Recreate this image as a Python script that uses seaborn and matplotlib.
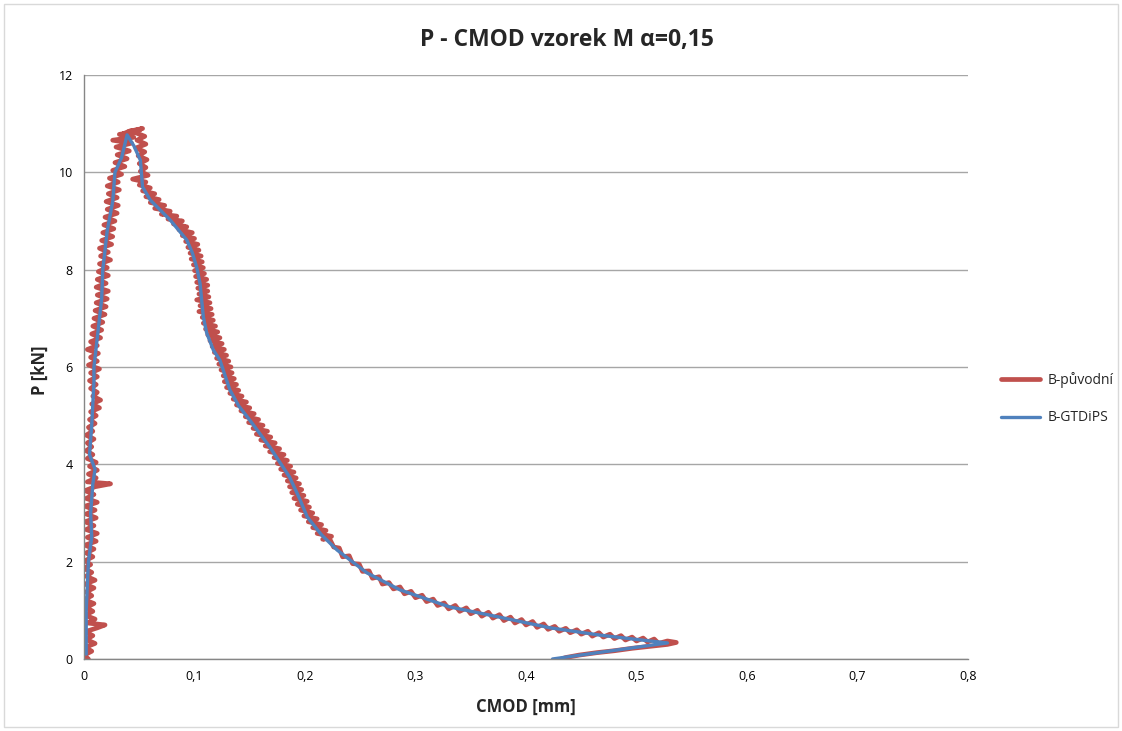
#!/usr/bin/env python3
"""P - CMOD vzorek M, alpha=0,15 — puvodni vs GTDiPS."""

import matplotlib
matplotlib.use("Agg")
import matplotlib.pyplot as plt
import matplotlib.ticker as mticker
import pandas as pd
import seaborn as sns

red_up_y = [
    0.00, 0.08, 0.16, 0.24, 0.32, 0.40, 0.48, 0.56, 0.64, 0.70,
    0.74, 0.82, 0.90, 0.98, 1.06, 1.14, 1.22, 1.30, 1.38, 1.46,
    1.54, 1.62, 1.70, 1.78, 1.86, 1.94, 2.02, 2.10, 2.18, 2.26,
    2.34, 2.42, 2.50, 2.58, 2.66, 2.74, 2.82, 2.90, 2.98, 3.06,
    3.14, 3.22, 3.30, 3.38, 3.46, 3.54, 3.60, 3.64, 3.72, 3.80,
    3.88, 3.96, 4.04, 4.12, 4.20, 4.28, 4.36, 4.44, 4.52, 4.60,
    4.68, 4.76, 4.84, 4.92, 5.00, 5.08, 5.16, 5.24, 5.32, 5.40,
    5.48, 5.56, 5.64, 5.72, 5.80, 5.88, 5.96, 6.04, 6.12, 6.20,
    6.28, 6.36, 6.44, 6.52, 6.60, 6.68, 6.76, 6.84, 6.92, 7.00,
    7.08, 7.16, 7.24, 7.32, 7.40, 7.48, 7.56, 7.64, 7.72, 7.80,
    7.88, 7.96, 8.04, 8.12, 8.20, 8.28, 8.36, 8.44, 8.52, 8.60,
    8.68, 8.76, 8.84, 8.92, 9.00, 9.08, 9.16, 9.24, 9.32, 9.40,
    9.48, 9.56, 9.64, 9.72, 9.80, 9.88, 9.96, 10.04, 10.12, 10.20,
    10.28, 10.36, 10.44, 10.52, 10.60, 10.66, 10.72, 10.78, 10.84, 10.80,
    10.88, 10.84, 10.90,
]
red_up_x = [
    0.004, 0.000, 0.007, 0.001, 0.010, 0.002, 0.008, 0.001, 0.012, 0.019,
    0.003, 0.010, 0.001, 0.008, 0.002, 0.009, 0.000, 0.007, 0.002, 0.009,
    0.001, 0.010, 0.002, 0.007, 0.000, 0.006, 0.001, 0.008, 0.002, 0.009,
    0.001, 0.011, 0.003, 0.012, 0.002, 0.009, 0.001, 0.011, 0.002, 0.010,
    0.001, 0.012, 0.002, 0.009, 0.001, 0.010, 0.024, 0.003, 0.011, 0.004,
    0.012, 0.005, 0.011, 0.003, 0.008, 0.002, 0.007, 0.003, 0.009, 0.002,
    0.008, 0.004, 0.010, 0.005, 0.011, 0.006, 0.014, 0.007, 0.015, 0.008,
    0.012, 0.006, 0.011, 0.005, 0.012, 0.006, 0.014, 0.004, 0.012, 0.006,
    0.013, 0.003, 0.012, 0.006, 0.015, 0.007, 0.016, 0.008, 0.017, 0.009,
    0.019, 0.010, 0.020, 0.011, 0.021, 0.012, 0.022, 0.011, 0.020, 0.012,
    0.022, 0.013, 0.021, 0.014, 0.024, 0.015, 0.022, 0.014, 0.025, 0.016,
    0.026, 0.017, 0.027, 0.018, 0.028, 0.019, 0.030, 0.021, 0.031, 0.020,
    0.030, 0.022, 0.032, 0.021, 0.031, 0.023, 0.034, 0.026, 0.037, 0.028,
    0.039, 0.030, 0.041, 0.029, 0.043, 0.026, 0.045, 0.032, 0.048, 0.036,
    0.051, 0.040, 0.053,
]

# falling branch
red_dn_x = [
    0.052, 0.046, 0.055, 0.048, 0.056, 0.047, 0.055, 0.049, 0.057, 0.050,
    0.056, 0.051, 0.058, 0.044, 0.056, 0.050, 0.060, 0.053, 0.064, 0.056,
    0.068, 0.060, 0.073, 0.064, 0.078, 0.070, 0.084, 0.076, 0.089, 0.081,
    0.093, 0.086, 0.098, 0.089, 0.100, 0.092, 0.103, 0.094, 0.104, 0.096,
    0.106, 0.097, 0.107, 0.099, 0.108, 0.100, 0.109, 0.101, 0.111, 0.102,
    0.112, 0.103, 0.112, 0.104, 0.113, 0.102, 0.114, 0.105, 0.115, 0.104,
    0.116, 0.107, 0.117, 0.108, 0.119, 0.110, 0.121, 0.112, 0.123, 0.114,
    0.125, 0.116, 0.127, 0.118, 0.129, 0.120, 0.131, 0.122, 0.133, 0.124,
    0.134, 0.126, 0.136, 0.127, 0.138, 0.129, 0.140, 0.132, 0.143, 0.135,
    0.147, 0.138, 0.150, 0.142, 0.154, 0.146, 0.158, 0.149, 0.162, 0.153,
    0.166, 0.156, 0.169, 0.160, 0.173, 0.164, 0.177, 0.168, 0.181, 0.172,
    0.184, 0.175, 0.187, 0.178, 0.190, 0.181, 0.192, 0.184, 0.195, 0.186,
    0.197, 0.188, 0.199, 0.190, 0.202, 0.193, 0.204, 0.196, 0.207, 0.199,
    0.211, 0.203, 0.215, 0.207, 0.219, 0.211, 0.224, 0.216,
    0.222, 0.226, 0.231, 0.234, 0.240, 0.243, 0.249, 0.252, 0.258, 0.261,
    0.267, 0.270, 0.276, 0.280, 0.286, 0.290, 0.296, 0.300, 0.306, 0.310,
    0.316, 0.320, 0.326, 0.330, 0.336, 0.340, 0.346, 0.350, 0.356, 0.360,
    0.366, 0.370, 0.376, 0.380, 0.386, 0.390, 0.396, 0.400, 0.406, 0.410,
    0.416, 0.420, 0.426, 0.430, 0.436, 0.440, 0.446, 0.450, 0.456, 0.460,
    0.466, 0.470, 0.476, 0.480, 0.486, 0.490, 0.496, 0.500, 0.506, 0.510,
    0.516, 0.520, 0.528, 0.536, 0.528, 0.512, 0.496, 0.480, 0.464, 0.448,
    0.436, 0.432,
]
red_dn_y = [
    10.90, 10.82, 10.74, 10.66, 10.58, 10.50, 10.42, 10.34, 10.26, 10.18,
    10.10, 10.02, 9.94, 9.86, 9.80, 9.74, 9.68, 9.62, 9.56, 9.50,
    9.44, 9.38, 9.32, 9.26, 9.20, 9.14, 9.10, 9.04, 9.00, 8.94,
    8.88, 8.82, 8.76, 8.70, 8.64, 8.58, 8.52, 8.46, 8.40, 8.34,
    8.28, 8.22, 8.16, 8.10, 8.04, 7.98, 7.92, 7.86, 7.80, 7.74,
    7.68, 7.62, 7.56, 7.50, 7.44, 7.38, 7.32, 7.26, 7.20, 7.14,
    7.08, 7.02, 6.96, 6.90, 6.84, 6.78, 6.72, 6.66, 6.60, 6.54,
    6.48, 6.42, 6.36, 6.30, 6.24, 6.18, 6.12, 6.06, 6.00, 5.94,
    5.88, 5.82, 5.76, 5.70, 5.64, 5.58, 5.52, 5.46, 5.40, 5.34,
    5.28, 5.22, 5.16, 5.10, 5.04, 4.98, 4.92, 4.86, 4.80, 4.74,
    4.68, 4.62, 4.56, 4.50, 4.44, 4.38, 4.32, 4.26, 4.20, 4.14,
    4.08, 4.02, 3.96, 3.90, 3.84, 3.78, 3.72, 3.66, 3.60, 3.54,
    3.48, 3.42, 3.36, 3.30, 3.24, 3.18, 3.12, 3.06, 3.00, 2.94,
    2.88, 2.82, 2.76, 2.70, 2.64, 2.58, 2.52, 2.46,
    2.48, 2.30, 2.28, 2.10, 2.12, 1.96, 1.95, 1.80, 1.81, 1.66,
    1.69, 1.54, 1.57, 1.44, 1.48, 1.34, 1.39, 1.26, 1.31, 1.18,
    1.23, 1.10, 1.15, 1.03, 1.10, 0.98, 1.05, 0.93, 1.00, 0.88,
    0.96, 0.84, 0.91, 0.79, 0.86, 0.74, 0.81, 0.70, 0.77, 0.65,
    0.72, 0.61, 0.67, 0.57, 0.63, 0.54, 0.60, 0.51, 0.57, 0.47,
    0.54, 0.45, 0.51, 0.42, 0.48, 0.39, 0.45, 0.37, 0.43, 0.35,
    0.41, 0.32, 0.37, 0.34, 0.30, 0.26, 0.22, 0.17, 0.13, 0.08,
    0.03, 0.00,
]

# B-GTDiPS (smoothed record)
blue_x = [
    0.002, 0.002, 0.004, 0.007, 0.006, 0.008, 0.010, 0.005, 0.007, 0.009,
    0.009, 0.016, 0.017, 0.021, 0.026, 0.028, 0.034, 0.039,
    0.045, 0.051, 0.053, 0.060, 0.078, 0.093, 0.098, 0.102, 0.105, 0.108,
    0.111, 0.117, 0.123, 0.132, 0.140, 0.150, 0.168, 0.186, 0.195, 0.202,
    0.215, 0.229, 0.256, 0.286, 0.331, 0.376, 0.422, 0.467, 0.497, 0.528,
    0.424,
]
blue_y = [
    0.10, 1.00, 2.00, 2.50, 3.00, 3.60, 3.90, 4.20, 4.80, 5.70,
    6.00, 7.40, 8.00, 8.80, 9.40, 10.00, 10.30, 10.77,
    10.55, 10.25, 9.70, 9.43, 9.02, 8.61, 8.35, 8.05, 7.72, 7.03,
    6.70, 6.35, 6.14, 5.53, 5.20, 4.91, 4.36, 3.74, 3.30, 2.92,
    2.55, 2.24, 1.77, 1.42, 1.07, 0.86, 0.64, 0.49, 0.41, 0.33,
    0.00,
]

x_ticks = [0, 0.1, 0.2, 0.3, 0.4, 0.5, 0.6, 0.7, 0.8]
y_ticks = [0, 2, 4, 6, 8, 10, 12]


def comma(v, _pos):
    s = f"{v:.1f}".rstrip("0").rstrip(".")
    return s.replace(".", ",")


def main() -> int:
    sns.set_theme(style="white")
    plt.rcParams["font.family"] = ["Open Sans", "DejaVu Sans"]

    df_red = pd.DataFrame({"x": red_up_x + red_dn_x, "y": red_up_y + red_dn_y})
    df_blue = pd.DataFrame({"x": blue_x, "y": blue_y})

    fig = plt.figure(figsize=(11.22, 7.31), dpi=100)
    ax = fig.add_axes([84 / 1122, 1 - 659 / 731, (968 - 84) / 1122, (659 - 75) / 731])

    sns.lineplot(data=df_red, x="x", y="y", sort=False, estimator=None,
                 color="#C0504D", linewidth=3.4, solid_joinstyle="round",
                 ax=ax, label="B-původní")
    sns.lineplot(data=df_blue, x="x", y="y", sort=False, estimator=None,
                 color="#4F81BD", linewidth=2.4, solid_joinstyle="round",
                 ax=ax, label="B-GTDiPS")

    ax.set_xlim(0, 0.8)
    ax.set_ylim(0, 12)
    ax.set_xticks(x_ticks)
    ax.set_yticks(y_ticks)
    ax.xaxis.set_major_formatter(mticker.FuncFormatter(comma))
    ax.yaxis.grid(True, color="#A6A6A6", linewidth=1.0)
    ax.set_axisbelow(True)
    for side in ("top", "right"):
        ax.spines[side].set_visible(False)
    for side in ("left", "bottom"):
        ax.spines[side].set_color("#868686")
        ax.spines[side].set_linewidth(1.0)
    ax.tick_params(axis="both", labelsize=9, colors="#000000", length=0, pad=8)

    ax.set_xlabel("")
    ax.set_ylabel("")
    fig.text(526 / 1122, 1 - 707 / 731, "CMOD [mm]", ha="center", va="center",
             fontsize=12, fontweight="bold")
    fig.text(40 / 1122, 1 - 370 / 731, "P [kN]", ha="center", va="center",
             rotation=90, fontsize=12, fontweight="bold")
    fig.text(567 / 1122, 1 - 40 / 731, "P - CMOD vzorek M α=0,15", ha="center",
             va="center", fontsize=16.5, fontweight="bold")

    ax.legend(loc="center left", bbox_to_anchor=(1.023, 0.446), frameon=False,
              fontsize=10, handlelength=2.8, handletextpad=0.6, labelspacing=1.65)

    fig.patches.append(plt.Rectangle((0.004, 0.005), 0.992, 0.99, transform=fig.transFigure,
                                     fill=False, edgecolor="#D9D9D9", linewidth=1.0))

    fig.savefig("out.png", dpi=100)
    plt.close(fig)
    return 0


if __name__ == "__main__":
    raise SystemExit(main())
